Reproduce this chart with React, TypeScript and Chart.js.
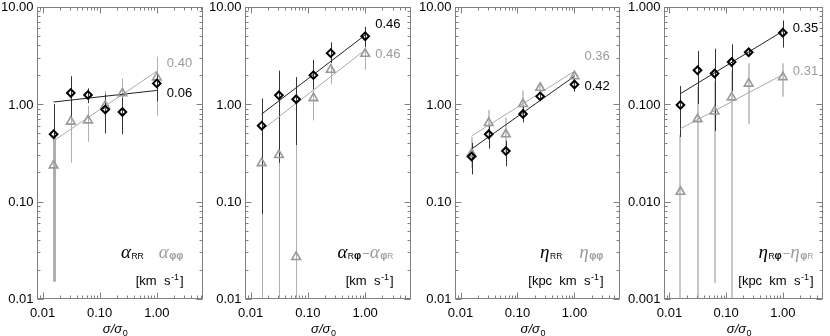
import React, { useEffect, useRef } from "react";
import { Chart, registerables } from "chart.js";

Chart.register(...registerables);

// ---------------- data ----------------
const sigmaRatio = [0.015625, 0.03125, 0.0625, 0.125, 0.25, 1.0];
const fitRange = [0.015625, 1.0];

const xTickValues = [0.01, 0.1, 1];
const xTickLabels = ["0.01", "0.10", "1.00"];
const yTickValuesA = [0.01, 0.1, 1, 10];
const yTickLabelsA = ["0.01", "0.10", "1.00", "10.00"];
const yTickValuesB = [0.001, 0.01, 0.1, 1];
const yTickLabelsB = ["0.001", "0.010", "0.100", "1.000"];

// panel 1: alpha_RR (black), alpha_phiphi (gray)
const alphaRR = [0.49, 1.3, 1.24, 0.88, 0.83, 1.63];
const alphaRRLow = [0.45, 0.74, 1.02, 0.5, 0.49, 1.07];
const alphaRRHigh = [1.0, 1.93, 1.45, 1.26, 1.17, 2.05];
const alphaRRFit = [1.05, 1.38];
const alphaPP = [0.235, 0.66, 0.68, 0.96, 1.29, 1.88];
const alphaPPLow = [0.015, 0.25, 0.41, 0.58, 0.85, 0.76];
const alphaPPHigh = [0.48, 1.2, 0.96, 1.35, 1.83, 3.07];
const alphaPPFit = [0.42, 2.17];
const slope1 = ["0.06", "0.40"];

// panel 2: alpha_Rphi (black), alpha_phiR (gray)
const alphaRP = [0.6, 1.23, 1.12, 1.98, 3.33, 4.97];
const alphaRPLow = [0.0745, 0.25, 0.38, 1.42, 2.64, 3.88];
const alphaRPHigh = [1.14, 2.2, 1.89, 2.85, 4.3, 6.2];
const alphaRPFit = [0.79, 5.1];
const alphaPR = [0.248, 0.3, 0.027, 1.15, 2.25, 3.28];
const alphaPRLow = [0.005, 0.005, 0.005, 0.68, 1.6, 2.25];
const alphaPRHigh = [0.86, 0.87, 0.44, 1.59, 2.6, 4.0];
const alphaPRFit = [0.54, 3.6];
const slope2 = ["0.46", "0.46"];

// panel 3: eta_RR (black), eta_phiphi (gray)
const etaRR = [0.29, 0.49, 0.33, 0.79, 1.2, 1.59];
const etaRRLow = [0.19, 0.35, 0.23, 0.65, 1.1, 1.34];
const etaRRHigh = [0.4, 0.6, 0.42, 0.96, 1.32, 1.83];
const etaRRFit = [0.346, 1.93];
const etaPP = [0.31, 0.64, 0.49, 1.0, 1.47, 1.93];
const etaPPLow = [0.22, 0.46, 0.31, 0.73, 1.3, 1.59];
const etaPPHigh = [0.46, 0.87, 0.73, 1.38, 1.65, 2.17];
const etaPPFit = [0.47, 2.17];
const slope3 = ["0.42", "0.36"];

// panel 4: eta_Rphi (black), eta_phiR (gray)
const etaRP = [0.098, 0.222, 0.206, 0.27, 0.34, 0.54];
const etaRPLow = [0.046, 0.1, 0.053, 0.136, 0.32, 0.38];
const etaRPHigh = [0.153, 0.35, 0.37, 0.41, 0.36, 0.72];
const etaRPFit = [0.128, 0.56];
const etaPR = [0.0126, 0.07, 0.084, 0.117, 0.162, 0.189];
const etaPRLow = [0.0005, 0.0005, 0.00146, 0.0005, 0.062, 0.119];
const etaPRHigh = [0.048, 0.15, 0.17, 0.22, 0.263, 0.263];
const etaPRFit = [0.056, 0.2];
const slope4 = ["0.35", "0.31"];

// ---------------- styles ----------------
const W = 830;
const H = 336;
const SANS = '"Liberation Sans", Arial, Helvetica, sans-serif';
const SERIF = '"Liberation Serif", "Times New Roman", serif';
const BLACK = "#000000";
const GRAY = "#9c9c9c";
const FRAME = "#808080";
const BLACK_BAR = "#333333";
const TICK_FONT = `13px ${SANS}`;
const GREEK = `italic 19px ${SERIF}`;
const SUB = `8.5px ${SANS}`;
const SUBB = `bold 10px ${SANS}`;
const MAIN = `13px ${SANS}`;
const SUP = `9px ${SANS}`;

type Run = { t: string; font: string; color: string; dy?: number; gap?: number };

const unitKm: Run[] = [
  { t: "[km  s", font: MAIN, color: BLACK },
  { t: "-1", font: SUP, color: BLACK, dy: -5, gap: 0.5 },
  { t: "]", font: MAIN, color: BLACK, gap: 1 },
];
const unitKpc: Run[] = [
  { t: "[kpc  km  s", font: MAIN, color: BLACK },
  { t: "-1", font: SUP, color: BLACK, dy: -5, gap: 0.5 },
  { t: "]", font: MAIN, color: BLACK, gap: 1 },
];

type Series = { y: number[]; lo: number[]; hi: number[]; fit: number[]; slope: string; labelAt: number };
type PanelCfg = {
  left: number;
  right: number;
  xMax: number;
  yMin: number;
  yMax: number;
  yTicks: number[];
  yLabels: string[];
  black: Series;
  gray: Series;
  grayWidths: number[];
  grayBar: string;
  legend: Run[];
  unit: Run[];
  textRight: number;
};

const PANELS: PanelCfg[] = [
  {
    left: 37, right: 202.5, xMax: 6.3, yMin: 0.01, yMax: 10,
    yTicks: yTickValuesA, yLabels: yTickLabelsA,
    black: { y: alphaRR, lo: alphaRRLow, hi: alphaRRHigh, fit: alphaRRFit, slope: slope1[0], labelAt: 1.32 },
    gray: { y: alphaPP, lo: alphaPPLow, hi: alphaPPHigh, fit: alphaPPFit, slope: slope1[1], labelAt: 2.66 },
    grayWidths: [3, 1, 1, 1, 1, 1],
    grayBar: "#b0b0b0",
    legend: [
      { t: "α", font: GREEK, color: BLACK },
      { t: "RR", font: SUB, color: BLACK, dy: 1.5, gap: 0.5 },
      { t: "α", font: GREEK, color: GRAY, gap: 15 },
      { t: "φφ", font: SUBB, color: GRAY, dy: 1.5, gap: 0.5 },
    ],
    unit: unitKm, textRight: 183.5,
  },
  {
    left: 245, right: 411, xMax: 6.3, yMin: 0.01, yMax: 10,
    yTicks: yTickValuesA, yLabels: yTickLabelsA,
    black: { y: alphaRP, lo: alphaRPLow, hi: alphaRPHigh, fit: alphaRPFit, slope: slope2[0], labelAt: 6.72 },
    gray: { y: alphaPR, lo: alphaPRLow, hi: alphaPRHigh, fit: alphaPRFit, slope: slope2[1], labelAt: 3.35 },
    grayWidths: [1, 1, 1, 1, 1, 1],
    grayBar: "#b0b0b0",
    legend: [
      { t: "α", font: GREEK, color: BLACK },
      { t: "R", font: SUB, color: BLACK, dy: 1.5, gap: 0.5 },
      { t: "φ", font: SUBB, color: BLACK, dy: 1.5 },
      { t: "−", font: MAIN, color: GRAY, gap: 1 },
      { t: "α", font: GREEK, color: GRAY },
      { t: "φ", font: SUBB, color: GRAY, dy: 1.5, gap: 0.5 },
      { t: "R", font: SUB, color: GRAY, dy: 1.5 },
    ],
    unit: unitKm, textRight: 393.5,
  },
  {
    left: 455, right: 620, xMax: 6.3, yMin: 0.01, yMax: 10,
    yTicks: yTickValuesA, yLabels: yTickLabelsA,
    black: { y: etaRR, lo: etaRRLow, hi: etaRRHigh, fit: etaRRFit, slope: slope3[0], labelAt: 1.57 },
    gray: { y: etaPP, lo: etaPPLow, hi: etaPPHigh, fit: etaPPFit, slope: slope3[1], labelAt: 3.13 },
    grayWidths: [1.5, 1.5, 1.5, 1.5, 1.5, 1.5],
    grayBar: "#b8b8b8",
    legend: [
      { t: "η", font: GREEK, color: BLACK },
      { t: "RR", font: SUB, color: BLACK, dy: 1.5, gap: 0.5 },
      { t: "η", font: GREEK, color: GRAY, gap: 17 },
      { t: "φφ", font: SUBB, color: GRAY, dy: 1.5, gap: 0.5 },
    ],
    unit: unitKpc, textRight: 603.5,
  },
  {
    left: 664, right: 824, xMax: 5.2, yMin: 0.001, yMax: 1,
    yTicks: yTickValuesB, yLabels: yTickLabelsB,
    black: { y: etaRP, lo: etaRPLow, hi: etaRPHigh, fit: etaRPFit, slope: slope4[0], labelAt: 0.618 },
    gray: { y: etaPR, lo: etaPRLow, hi: etaPRHigh, fit: etaPRFit, slope: slope4[1], labelAt: 0.22 },
    grayWidths: [2, 2, 2, 2, 2, 2],
    grayBar: "#c8c8c8",
    legend: [
      { t: "η", font: GREEK, color: BLACK },
      { t: "R", font: SUB, color: BLACK, dy: 1.5, gap: 0.5 },
      { t: "φ", font: SUBB, color: BLACK, dy: 1.5 },
      { t: "−", font: MAIN, color: GRAY, gap: 1 },
      { t: "η", font: GREEK, color: GRAY },
      { t: "φ", font: SUBB, color: GRAY, dy: 1.5, gap: 0.5 },
      { t: "R", font: SUB, color: GRAY, dy: 1.5 },
    ],
    unit: unitKpc, textRight: 813.5,
  },
];

const PLOT_TOP = 2;
const PLOT_BOTTOM = 299;
const X_MIN = 0.008;

// ---------------- drawing helpers ----------------
function runsWidth(ctx: CanvasRenderingContext2D, runs: Run[]) {
  let total = 0;
  for (const r of runs) {
    ctx.font = r.font;
    total += ctx.measureText(r.t).width + (r.gap || 0);
  }
  return total;
}

function drawRuns(ctx: CanvasRenderingContext2D, runs: Run[], xLeft: number, baseline: number) {
  let x = xLeft;
  ctx.textAlign = "left";
  ctx.textBaseline = "alphabetic";
  for (const r of runs) {
    ctx.font = r.font;
    ctx.fillStyle = r.color;
    x += r.gap || 0;
    ctx.fillText(r.t, x, baseline + (r.dy || 0));
    x += ctx.measureText(r.t).width;
  }
}

function drawLogTicks(ctx: CanvasRenderingContext2D, scale: any, a: any, horizontal: boolean) {
  const lo = Math.floor(Math.log10(scale.min));
  const hi = Math.ceil(Math.log10(scale.max));
  const L = Math.round(a.left) + 0.5;
  const R = Math.round(a.right) - 0.5;
  const T = Math.round(a.top) + 0.5;
  const B = Math.round(a.bottom) - 0.5;
  ctx.beginPath();
  for (let d = lo; d <= hi; d++) {
    for (let m = 1; m <= 9; m++) {
      const v = m * Math.pow(10, d);
      if (v < scale.min * 0.9999 || v > scale.max * 1.0001) continue;
      const p = Math.round(scale.getPixelForValue(v)) + 0.5;
      const len = m === 1 ? 6 : 3;
      if (horizontal) {
        ctx.moveTo(p, B);
        ctx.lineTo(p, B - len);
        ctx.moveTo(p, T);
        ctx.lineTo(p, T + len);
      } else {
        ctx.moveTo(L, p);
        ctx.lineTo(L + len, p);
        ctx.moveTo(R, p);
        ctx.lineTo(R - len, p);
      }
    }
  }
  ctx.stroke();
}

function drawBars(ctx: CanvasRenderingContext2D, xs: any, ys: any, s: Series, color: string, widths: number[]) {
  ctx.strokeStyle = color;
  sigmaRatio.forEach((xv, i) => {
    const w = widths[i];
    ctx.lineWidth = w;
    const px = Math.round(xs.getPixelForValue(xv)) + (Math.round(w) % 2 === 1 ? 0.5 : 0);
    ctx.beginPath();
    ctx.moveTo(px, ys.getPixelForValue(s.hi[i]));
    ctx.lineTo(px, ys.getPixelForValue(s.lo[i]));
    ctx.stroke();
  });
}

function makePlugin(p: PanelCfg, idx: number) {
  return {
    id: "panelDecor" + idx,
    beforeDatasetsDraw(chart: any) {
      const { ctx, chartArea: a } = chart;
      const xs = chart.scales.x;
      const ys = chart.scales.y;
      ctx.save();
      ctx.beginPath();
      ctx.rect(a.left, a.top, a.right - a.left, a.bottom - a.top);
      ctx.clip();
      drawBars(ctx, xs, ys, p.gray, p.grayBar, p.grayWidths);
      drawBars(ctx, xs, ys, p.black, BLACK_BAR, [1, 1, 1, 1, 1, 1]);
      ctx.restore();
    },
    afterDraw(chart: any) {
      const { ctx, chartArea: a } = chart;
      const xs = chart.scales.x;
      const ys = chart.scales.y;
      ctx.save();
      // frame
      ctx.strokeStyle = FRAME;
      ctx.lineWidth = 1;
      const L = Math.round(a.left) + 0.5;
      const R = Math.round(a.right) - 0.5;
      const T = Math.round(a.top) + 0.5;
      const B = Math.round(a.bottom) - 0.5;
      ctx.strokeRect(L, T, R - L, B - T);
      drawLogTicks(ctx, xs, a, true);
      drawLogTicks(ctx, ys, a, false);

      // tick labels
      ctx.fillStyle = BLACK;
      ctx.font = TICK_FONT;
      ctx.textAlign = "right";
      ctx.textBaseline = "alphabetic";
      p.yTicks.forEach((v, i) => {
        const py = ys.getPixelForValue(v);
        const base = Math.min(Math.max(py + 4.7, 10), 302.5);
        ctx.fillText(p.yLabels[i], a.left - 3.5, base);
      });
      ctx.textAlign = "center";
      xTickValues.forEach((v, i) => {
        const px = xs.getPixelForValue(v);
        ctx.fillText(xTickLabels[i], px, 316.5);
      });

      // slope labels
      const x1 = xs.getPixelForValue(1) + 10;
      ctx.textAlign = "left";
      ctx.font = TICK_FONT;
      ctx.fillStyle = BLACK;
      ctx.fillText(p.black.slope, x1, ys.getPixelForValue(p.black.labelAt) + 4.7);
      ctx.fillStyle = GRAY;
      ctx.fillText(p.gray.slope, x1, ys.getPixelForValue(p.gray.labelAt) + 4.7);

      // legend and units
      const lw = runsWidth(ctx, p.legend);
      drawRuns(ctx, p.legend, p.textRight - lw, 257.5);
      const uw = runsWidth(ctx, p.unit);
      drawRuns(ctx, p.unit, p.textRight - uw, 284.5);

      // axis title
      const title: Run[] = [
        { t: "σ/σ", font: `italic 13px ${SANS}`, color: BLACK },
        { t: "0", font: `9px ${SANS}`, color: BLACK, dy: 2.5, gap: 0.5 },
      ];
      const tw = runsWidth(ctx, title);
      const cx = (a.left + a.right) / 2 - 4.5;
      drawRuns(ctx, title, cx - tw / 2, 333);
      ctx.restore();
    },
  };
}

function Panel({ cfg, idx }: { cfg: PanelCfg; idx: number }) {
  const ref = useRef<HTMLCanvasElement>(null);
  useEffect(() => {
    const canvas = ref.current;
    if (!canvas) return;
    const toPts = (ys: number[]) => sigmaRatio.map((x, i) => ({ x, y: ys[i] }));
    const fitPts = (f: number[]) => fitRange.map((x, i) => ({ x, y: f[i] }));
    const chart = new Chart(canvas, {
      type: "scatter",
      data: {
        datasets: [
          {
            data: toPts(cfg.black.y),
            pointStyle: "rectRot",
            pointRadius: 3.8,
            pointBorderWidth: 2,
            borderColor: BLACK,
            backgroundColor: "rgba(0,0,0,0)",
            pointBackgroundColor: "rgba(0,0,0,0)",
            pointBorderColor: BLACK,
          },
          {
            data: toPts(cfg.gray.y),
            pointStyle: "triangle",
            pointRadius: 5,
            pointBorderWidth: 1.6,
            borderColor: "#999999",
            backgroundColor: "rgba(0,0,0,0)",
            pointBackgroundColor: "rgba(0,0,0,0)",
            pointBorderColor: "#999999",
          },
          {
            data: fitPts(cfg.black.fit),
            showLine: true,
            pointRadius: 0,
            borderColor: "#222222",
            borderWidth: 1,
          },
          {
            data: fitPts(cfg.gray.fit),
            showLine: true,
            pointRadius: 0,
            borderColor: "#aaaaaa",
            borderWidth: 1,
          },
        ],
      } as any,
      options: {
        responsive: false,
        animation: false,
        events: [],
        layout: {
          padding: {
            left: cfg.left,
            right: W - cfg.right,
            top: PLOT_TOP,
            bottom: H - PLOT_BOTTOM,
          },
        },
        scales: {
          x: { type: "logarithmic", min: X_MIN, max: cfg.xMax, display: false },
          y: { type: "logarithmic", min: cfg.yMin, max: cfg.yMax, display: false },
        },
        plugins: {
          legend: { display: false },
          tooltip: { enabled: false },
        },
      } as any,
      plugins: [makePlugin(cfg, idx)],
    });
    return () => chart.destroy();
  }, [cfg, idx]);
  return (
    <canvas
      ref={ref}
      width={W}
      height={H}
      style={{ position: "absolute", left: 0, top: 0, width: W, height: H }}
    />
  );
}

export default function App() {
  useEffect(() => {
    document.body.style.margin = "0";
  }, []);
  return (
    <div
      style={{
        position: "fixed",
        left: 0,
        top: 0,
        width: W,
        height: H,
        background: "#ffffff",
        overflow: "hidden",
      }}
    >
      {PANELS.map((p, i) => (
        <Panel key={i} cfg={p} idx={i} />
      ))}
    </div>
  );
}
